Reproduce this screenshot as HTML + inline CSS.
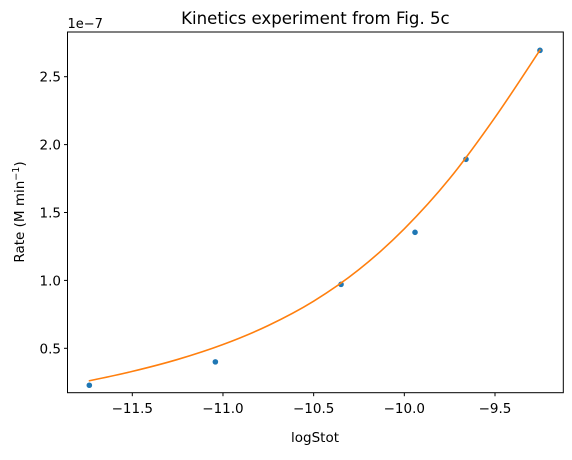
<!DOCTYPE html>
<html><head><meta charset="utf-8"><style>
body{margin:0;background:#fff;}
svg text{font-family:"DejaVu Sans","Liberation Sans",sans-serif;fill:#000;}
</style></head><body>
<svg id="chart" width="572" height="455">
<text x="315.4" y="24" font-size="16.6" text-anchor="middle">Kinetics experiment from Fig. 5c</text>
<g id="axes"></g>
<rect x="67.5" y="32" width="495.8" height="360.7" fill="none" stroke="#000" stroke-width="1"/>
<text x="67.5" y="28" font-size="13">1e−7</text>
<text x="315" y="442" font-size="13.5" text-anchor="middle">logStot</text>
<text transform="translate(24,212) rotate(-90)" font-size="13.5" text-anchor="middle">Rate (M min<tspan dy="-5" font-size="9.5">−1</tspan><tspan dy="5">)</tspan></text>
</svg>
<script>
const xTicks=[-11.5,-11.0,-10.5,-10.0,-9.5];
const xTickLabels=["−11.5","−11.0","−10.5","−10.0","−9.5"];
const yTicks=[0.5,1.0,1.5,2.0,2.5];
const yTickLabels=["0.5","1.0","1.5","2.0","2.5"];
const dataX=[-11.737,-11.042,-10.349,-9.941,-9.66,-9.252];
const dataY=[0.228,0.40,0.971,1.354,1.892,2.694];
const fitX=[-11.74,-11.5,-11.25,-11,-10.75,-10.5,-10.25,-10,-9.75,-9.5,-9.25];
const fitY=[0.260,0.330,0.418,0.528,0.668,0.847,1.08,1.38,1.75,2.20,2.70];
function xs(v){return 132.3+(v+11.5)*181.35;}
function ys(v){return 348.3-(v-0.5)*135.8;}
const NS="http://www.w3.org/2000/svg";
const g=document.getElementById('axes');
function mk(t,a){const e=document.createElementNS(NS,t);for(const k in a)e.setAttribute(k,a[k]);g.appendChild(e);return e;}
xTicks.forEach((v,i)=>{
 const l=mk('line',{x1:xs(v),x2:xs(v),y1:392.7,y2:396.2,stroke:'#000'});
 
 
 const t=mk('text',{x:xs(v),y:413,'font-size':13.5,'text-anchor':'middle'});t.textContent=xTickLabels[i];
 
 
});
yTicks.forEach((v,i)=>{
 const l=mk('line',{x1:64,x2:67.5,y1:ys(v),y2:ys(v),stroke:'#000'});
 
 
 const t=mk('text',{x:61,y:ys(v)+5,'font-size':13.5,'text-anchor':'end'});t.textContent=yTickLabels[i];
 
 
});
dataX.forEach((v,i)=>{
 const c=mk('circle',{cx:xs(v),cy:ys(dataY[i]),r:2.8,fill:'#1f77b4'});
 
 
});
const pts=fitX.map((v,i)=>[xs(v),ys(fitY[i])]);
let d='M'+pts[0][0]+','+pts[0][1];
for(let i=0;i<pts.length-1;i++){
 const p0=pts[Math.max(0,i-1)],p1=pts[i],p2=pts[i+1],p3=pts[Math.min(pts.length-1,i+2)];
 d+=' C'+(p1[0]+(p2[0]-p0[0])/6)+','+(p1[1]+(p2[1]-p0[1])/6)+' '+(p2[0]-(p3[0]-p1[0])/6)+','+(p2[1]-(p3[1]-p1[1])/6)+' '+p2[0]+','+p2[1];
}
const p=mk('path',{d:d,fill:'none',stroke:'#ff7f0e','stroke-width':1.6});


</script>
</body></html>
